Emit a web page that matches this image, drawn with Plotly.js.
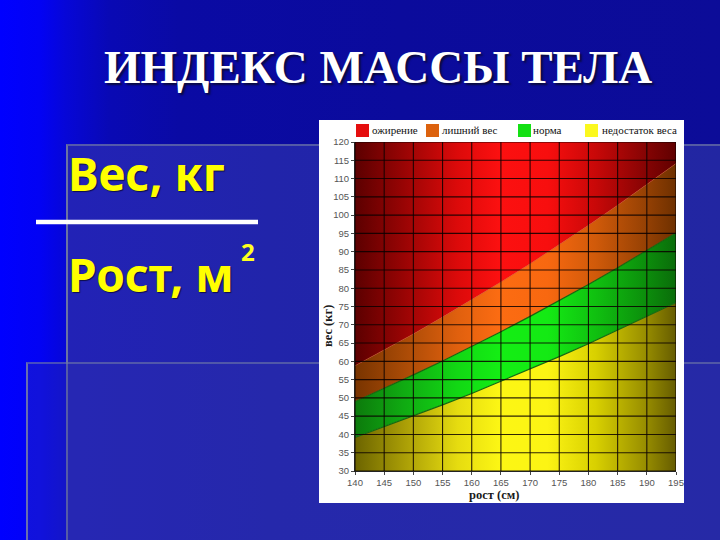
<!DOCTYPE html>
<html>
<head>
<meta charset="utf-8">
<script src="https://cdn.plot.ly/plotly-3.0.1.min.js"></script>
<style>
html,body{margin:0;padding:0;width:720px;height:540px;overflow:hidden;}
body{position:relative;background:linear-gradient(to right,#0000ff 0px,#0202f4 40px,#0606d8 65px,#0909b4 110px,#0a0aa4 180px,#0b0b9c 400px,#0c0c98 720px);}
#r1{position:absolute;left:66px;top:144px;right:0;bottom:0;background:linear-gradient(to right,#2222b6 0px,#2124aa 200px,#2226a2 654px);border-left:2px solid rgba(125,135,165,0.8);border-top:2px solid rgba(125,135,165,0.55);}
#r2{position:absolute;left:26px;top:362px;right:0;bottom:0;background:rgba(46,50,175,0.35);border-left:2px solid rgba(125,135,165,0.8);border-top:2px solid rgba(125,135,165,0.5);}
#chart{position:absolute;left:0;top:0;width:720px;height:540px;}
</style>
</head>
<body>
<div id="r1"></div>
<div id="r2"></div>
<div id="chart"></div>
<script>
// ---- data ----
const heights = [140, 145, 150, 155, 160, 165, 170, 175, 180, 185, 190, 195];
const underweightTop = [39.2, 42.1, 45.0, 48.1, 51.2, 54.5, 57.8, 61.3, 64.8, 68.5, 72.2, 76.1];
const normalTop      = [49.0, 52.6, 56.3, 60.1, 64.0, 68.1, 72.3, 76.6, 81.0, 85.6, 90.3, 95.1];
const overweightTop  = [58.8, 63.1, 67.5, 72.1, 76.8, 81.7, 86.7, 91.9, 97.2, 102.7, 108.3, 114.1];
const obeseX   = [140, 195];
const obeseTop = [120, 120];
const heightRange = [140, 195];
const weightRange = [30, 120];
const xTicks = [140, 145, 150, 155, 160, 165, 170, 175, 180, 185, 190, 195];
const yTicks = [30, 35, 40, 45, 50, 55, 60, 65, 70, 75, 80, 85, 90, 95, 100, 105, 110, 115, 120];
const categories = ['ожирение', 'лишний вес', 'норма', 'недостаток веса'];
const categoryColors = ['#e50e0e', '#dc620e', '#14e014', '#fbf81e'];
const titleText = 'ИНДЕКС МАССЫ ТЕЛА';
const xTitle = 'рост (см)';
const yTitle = 'вес (кг)';

// ---- layout geometry (pixels) ----
const L = 355, R = 676, T = 142, B = 471;
const W = R - L, H = B - T;
const PX = p => (p - L) / W;
const PY = p => (B - p) / H;

const gradYellow = [[0,'#6c6400'],[0.15,'#a89c06'],[0.32,'#e6dc10'],[0.45,'#fcf614'],[0.6,'#fcf414'],[0.75,'#d8d000'],[0.9,'#9a9000'],[1,'#665c00']];
const gradGreen  = [[0,'#0c7a0c'],[0.15,'#10aa12'],[0.32,'#12d814'],[0.45,'#14ee14'],[0.6,'#14ea14'],[0.75,'#10c010'],[0.9,'#0c900c'],[1,'#0a6c0a']];
const gradOrange = [[0,'#783400'],[0.15,'#a84a06'],[0.32,'#e0600e'],[0.45,'#fc6c12'],[0.6,'#f86810'],[0.75,'#d05a0a'],[0.9,'#984204'],[1,'#6e3000']];
const gradRed    = [[0,'#5c0000'],[0.15,'#980404'],[0.32,'#dc0a0a'],[0.45,'#fc1010'],[0.6,'#f80e0e'],[0.75,'#c80808'],[0.9,'#880404'],[1,'#600000']];

// grid lines built from tick arrays
const gx = [], gy = [];
xTicks.forEach(t => { gx.push(t, t, null); gy.push(weightRange[0], weightRange[1], null); });
yTicks.forEach(t => { gx.push(heightRange[0], heightRange[1], null); gy.push(t, t, null); });

const traces = [
  {x: heights, y: underweightTop, type: 'scatter', mode: 'lines', fill: 'tozeroy', name: categories[3],
   line: {color: '#176a10', width: 1.2}, fillgradient: {type: 'horizontal', colorscale: gradYellow},
   hoverinfo: 'skip', showlegend: false},
  {x: heights, y: normalTop, type: 'scatter', mode: 'lines', fill: 'tonexty', name: categories[2],
   line: {color: '#17660e', width: 1.2}, fillgradient: {type: 'horizontal', colorscale: gradGreen},
   hoverinfo: 'skip', showlegend: false},
  {x: heights, y: overweightTop, type: 'scatter', mode: 'lines', fill: 'tonexty', name: categories[1],
   line: {color: 'rgba(200,70,20,0.6)', width: 0.8}, fillgradient: {type: 'horizontal', colorscale: gradOrange},
   hoverinfo: 'skip', showlegend: false},
  {x: obeseX, y: obeseTop, type: 'scatter', mode: 'lines', fill: 'tonexty', name: categories[0],
   line: {color: 'rgba(0,0,0,0)', width: 0}, fillgradient: {type: 'horizontal', colorscale: gradRed},
   hoverinfo: 'skip', showlegend: false},
  {x: gx, y: gy, type: 'scatter', mode: 'lines', line: {color: 'rgba(10,0,0,0.85)', width: 1.1},
   hoverinfo: 'skip', showlegend: false, connectgaps: false}
];

// manual legend in the chart's header
const legX = [356, 426, 518, 585];
const legTextX = [370, 440, 531, 600];
const shapes = [
  {type: 'rect', xref: 'paper', yref: 'paper', x0: PX(319), x1: PX(684), y0: PY(503), y1: PY(120),
   fillcolor: '#ffffff', line: {width: 0}, layer: 'below'},
  {type: 'line', xref: 'paper', yref: 'paper', x0: PX(36), x1: PX(258), y0: PY(222), y1: PY(222),
   line: {color: '#ffffff', width: 4.5}}
];
categories.forEach((c, i) => {
  shapes.push({type: 'rect', xref: 'paper', yref: 'paper', x0: PX(legX[i]), x1: PX(legX[i] + 13),
    y0: PY(137), y1: PY(124), fillcolor: categoryColors[i], line: {width: 0}});
});

const annotations = [
  {text: '<b>' + titleText + '</b>', xref: 'paper', yref: 'paper', x: PX(378), y: PY(67), xanchor: 'center', yanchor: 'middle',
   showarrow: false, font: {family: 'Liberation Serif', size: 47, color: '#ffffff', shadow: '2px 2px 2px rgba(10,10,50,0.9)'}},
  {text: '<b>Вес, кг</b>', xref: 'paper', yref: 'paper', x: PX(66), y: PY(173), xanchor: 'left', yanchor: 'middle',
   showarrow: false, font: {family: 'Noto Sans', size: 46, color: '#ffff00', shadow: '1px 1px 1px rgba(0,0,0,0.6)'}},
  {text: '<b>Рост, м</b>', xref: 'paper', yref: 'paper', x: PX(66), y: PY(274), xanchor: 'left', yanchor: 'middle',
   showarrow: false, font: {family: 'Noto Sans', size: 46, color: '#ffff00', shadow: '1px 1px 1px rgba(0,0,0,0.6)'}},
  {text: '<b>2</b>', xref: 'paper', yref: 'paper', x: PX(248), y: PY(251), xanchor: 'center', yanchor: 'middle',
   showarrow: false, font: {family: 'Noto Sans', size: 24, color: '#ffff20'}},
  {text: '<b>' + xTitle + '</b>', xref: 'paper', yref: 'paper', x: PX(494), y: PY(495), xanchor: 'center', yanchor: 'middle',
   showarrow: false, font: {family: 'Liberation Serif', size: 12.5, color: '#1a1a1a'}},
  {text: '<b>' + yTitle + '</b>', xref: 'paper', yref: 'paper', x: PX(328), y: PY(326), xanchor: 'center', yanchor: 'middle',
   textangle: -90, showarrow: false, font: {family: 'Liberation Serif', size: 12.5, color: '#1a1a1a'}}
];
categories.forEach((c, i) => {
  annotations.push({text: c, xref: 'paper', yref: 'paper', x: PX(legTextX[i]), y: PY(130.5), xanchor: 'left', yanchor: 'middle',
    showarrow: false, font: {family: 'Liberation Serif', size: 11, color: '#111111'}});
});

const axisCommon = {
  showgrid: false, zeroline: false, showline: true, linecolor: '#222222', linewidth: 1,
  ticks: 'outside', ticklen: 3, tickcolor: '#444444', tickwidth: 1,
  tickfont: {family: 'Liberation Sans', size: 9.5, color: '#555555'}, fixedrange: true
};

const layout = {
  width: 720, height: 540,
  margin: {l: L, r: 720 - R, t: T, b: 540 - B, pad: 0},
  paper_bgcolor: 'rgba(0,0,0,0)', plot_bgcolor: 'rgba(0,0,0,0)',
  showlegend: false,
  xaxis: Object.assign({}, axisCommon, {range: heightRange, tickvals: xTicks, ticktext: xTicks.map(String)}),
  yaxis: Object.assign({}, axisCommon, {range: weightRange, tickvals: yTicks, ticktext: yTicks.map(String)}),
  shapes: shapes,
  annotations: annotations
};

Plotly.newPlot('chart', traces, layout, {displayModeBar: false, staticPlot: true});
</script>
</body>
</html>
